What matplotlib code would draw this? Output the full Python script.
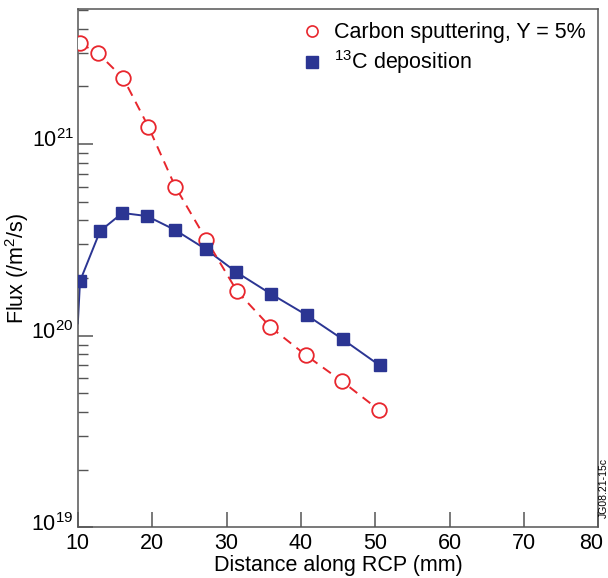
import numpy as np
import matplotlib
matplotlib.use("Agg")
import matplotlib.pyplot as plt
import matplotlib.transforms as mtransforms
from matplotlib.lines import Line2D

plt.rcParams["font.family"] = ["Liberation Sans", "DejaVu Sans"]
plt.rcParams["mathtext.fontset"] = "custom"
plt.rcParams["mathtext.rm"] = "Liberation Sans"
plt.rcParams["mathtext.it"] = "Liberation Sans:italic"
plt.rcParams["mathtext.bf"] = "Liberation Sans:bold"

# carbon sputtering (Y = 5%)
sput_x = [10.3, 12.7, 16.1, 19.5, 23.1, 27.3, 31.4, 35.9, 40.7, 45.5, 50.5]
sput_y = [3.36e21, 2.98e21, 2.21e21, 1.23e21, 6.0e20, 3.16e20, 1.71e20, 1.11e20, 7.9e19, 5.8e19, 4.1e19]

# 13C deposition (line starts at the axis)
dep_x = [10.0, 10.3, 13.0, 16.0, 19.3, 23.1, 27.2, 31.3, 36.0, 40.8, 45.6, 50.6]
dep_y = [1.16e20, 1.93e20, 3.52e20, 4.37e20, 4.21e20, 3.56e20, 2.83e20, 2.15e20, 1.65e20, 1.28e20, 9.6e19, 7.0e19]

red = "#e8262d"
blue = "#2b3593"

fig = plt.figure(figsize=(6.08, 5.78), dpi=100)
ax = fig.add_axes([0.128, 0.0875, 0.856, 0.8965])

ax.plot(sput_x, sput_y, color=red, ls=(0, (5, 3.5)), lw=1.4, marker="o", ms=10.5,
        mfc="white", mec=red, mew=1.3, zorder=3)
ax.plot(dep_x, dep_y, color=blue, lw=1.4, zorder=2)
ax.plot(dep_x[1:], dep_y[1:], ls="none", marker="s", ms=8.8, color=blue, zorder=4)

ax.set_yscale("log")
ax.set_xlim(10, 80)
ax.set_ylim(1e19, 5.05e21)
ax.set_xticks(np.arange(10, 81, 10))

ax.tick_params(which="both", direction="in", top=False, right=False, labelsize=15.5, color="#555555")
ax.tick_params(which="major", length=11, width=1.1)
ax.tick_params(which="minor", length=7, width=1.0)
ax.tick_params(axis="x", pad=4)
ax.tick_params(axis="y", pad=3)
for s in ax.spines.values():
    s.set_color("#555555")
    s.set_linewidth(1.1)

ax.set_xlabel("Distance along RCP (mm)", fontsize=15.5, labelpad=1)
ax.set_ylabel("Flux (/m$^2$/s)", fontsize=15.5, labelpad=0)

# nudge edge labels so they don't clash / get clipped
fig.canvas.draw()
for lab in ax.get_yticklabels():
    lab.set_transform(lab.get_transform() + mtransforms.ScaledTranslation(0, 4 / 72, fig.dpi_scale_trans))
xlabs = ax.get_xticklabels()
xlabs[-1].set_transform(xlabs[-1].get_transform() + mtransforms.ScaledTranslation(-5 / 72, 0, fig.dpi_scale_trans))

handles = [
    Line2D([], [], ls="none", marker="o", ms=8, mfc="white", mec=red, mew=1.2),
    Line2D([], [], ls="none", marker="s", ms=8, color=blue),
]
ax.legend(handles, ["Carbon sputtering, Y = 5%", "$^{13}$C deposition"], loc="upper right",
          frameon=False, fontsize=15.5, handlelength=0.8, handletextpad=0.6,
          labelspacing=0.25, borderaxespad=0.2, bbox_to_anchor=(1.0, 1.0))

fig.text(0.993, 0.155, "JG08.21-15c", rotation=90, fontsize=7.5, ha="center", va="center")

fig.savefig("out.png", dpi=100)
